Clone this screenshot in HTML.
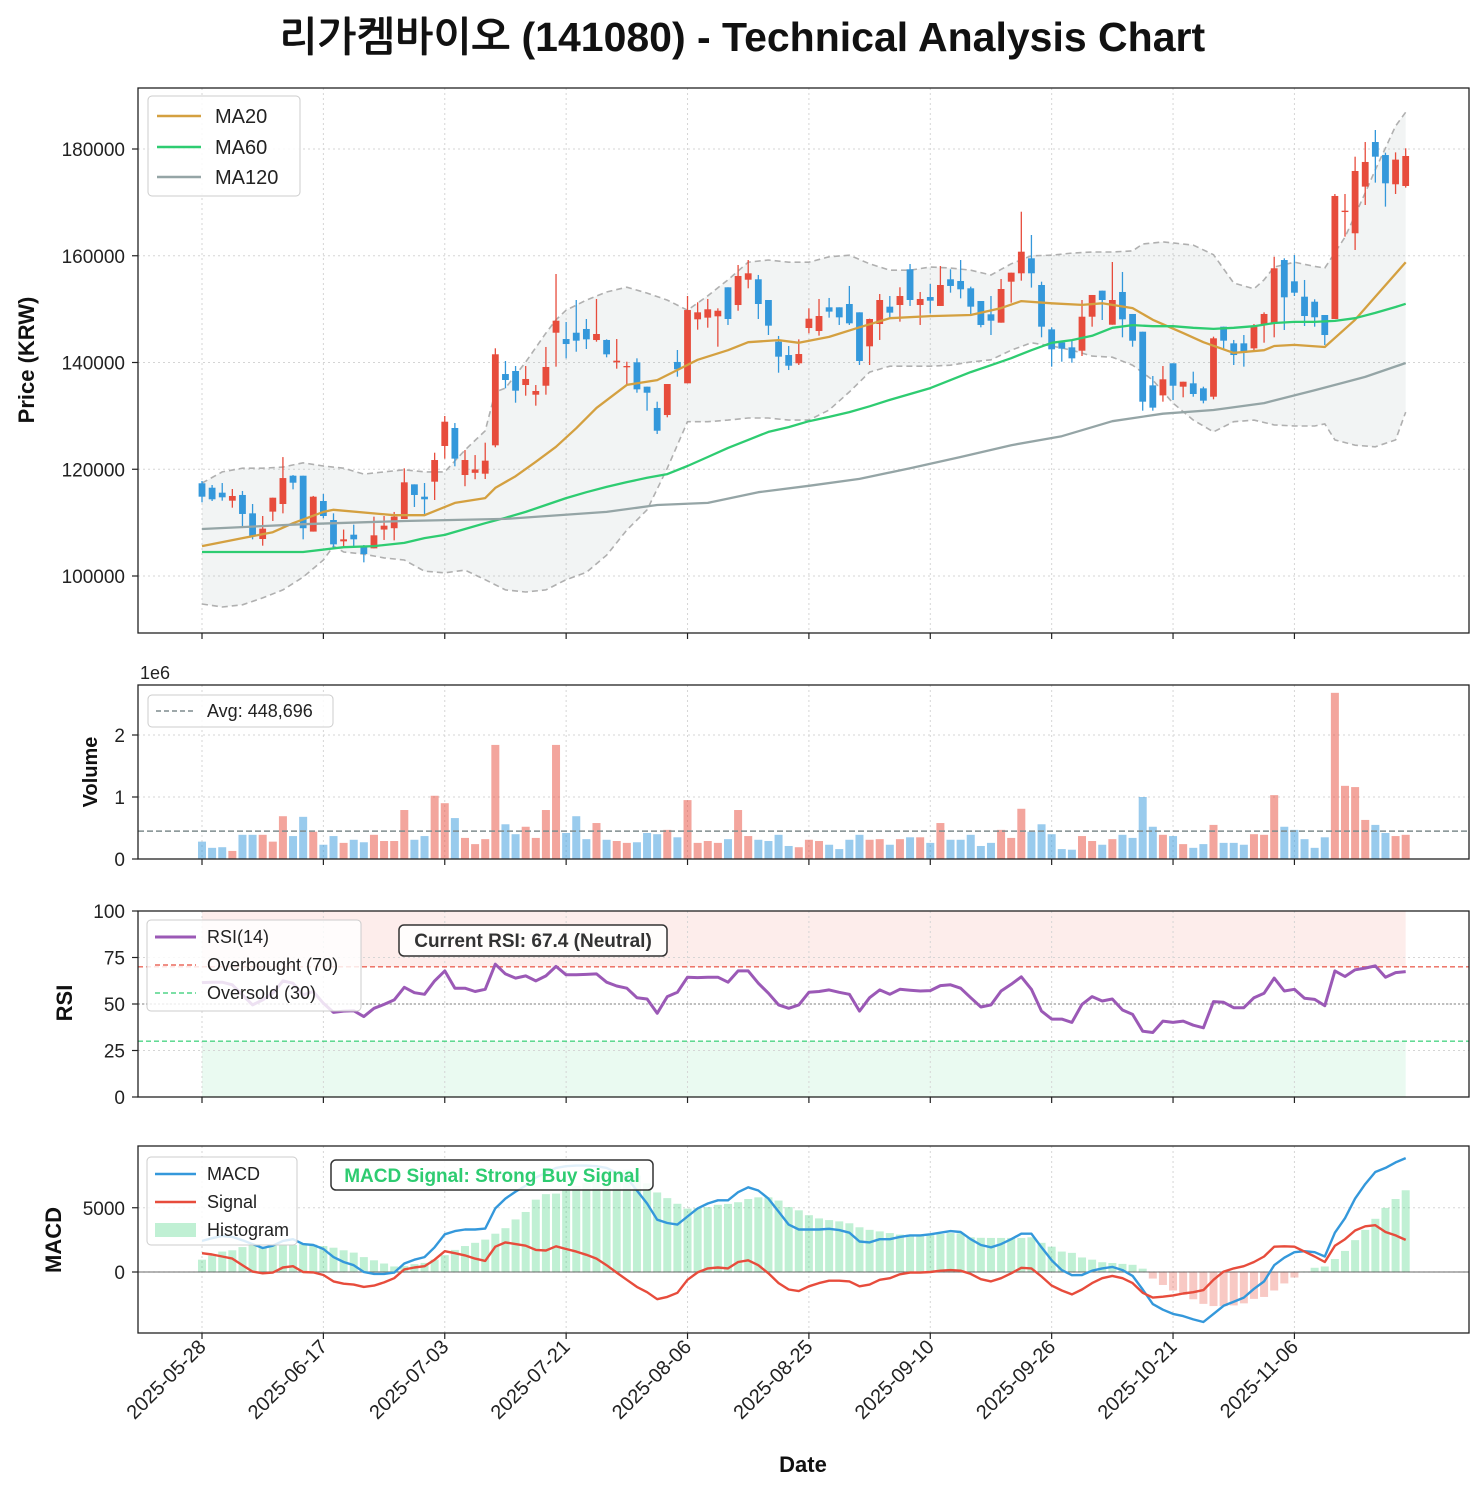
<!DOCTYPE html>
<html><head><meta charset="utf-8"><title>리가켐바이오 Technical Analysis</title>
<style>
html,body{margin:0;padding:0;background:#fff;}
svg{display:block;font-family:"Liberation Sans","NanumGothic","Noto Sans CJK KR",sans-serif;}
</style></head>
<body>
<svg id="chart" xmlns="http://www.w3.org/2000/svg" width="1483" height="1491" viewBox="0 0 1483 1491">
<rect x="0" y="0" width="1483" height="1491" fill="#fff"/>
<text x="742" y="51" text-anchor="middle" font-size="41" font-weight="bold" fill="#111" font-family="'Liberation Sans','NanumGothic','Noto Sans CJK KR',sans-serif">리가켐바이오 (141080) - Technical Analysis Chart</text>
<g id="gPrice"></g>
<g id="gVol"></g>
<g id="gRsi"></g>
<g id="gMacd"></g>
<text transform="translate(34,360) rotate(-90)" text-anchor="middle" font-size="22" font-weight="bold" fill="#111">Price (KRW)</text>
<text transform="translate(97,772) rotate(-90)" text-anchor="middle" font-size="20" font-weight="bold" fill="#111">Volume</text>
<text transform="translate(72,1003) rotate(-90)" text-anchor="middle" font-size="22" font-weight="bold" fill="#111">RSI</text>
<text transform="translate(61,1240) rotate(-90)" text-anchor="middle" font-size="22" font-weight="bold" fill="#111">MACD</text>
<text x="140" y="679" font-size="18" fill="#222">1e6</text>
<text x="803" y="1472" text-anchor="middle" font-size="22" font-weight="bold" fill="#111">Date</text>
</svg>
<script>
const tickIdx = [0,12,24,36,48,60,72,84,96,108];
const tickLabels = ['2025-05-28','2025-06-17','2025-07-03','2025-07-21','2025-08-06','2025-08-25','2025-09-10','2025-09-26','2025-10-21','2025-11-06'];
const openP = [117370,116540,115610,114110,115180,111740,106930,112060,113490,118790,118790,108320,114050,110490,106490,107740,105490,105180,108700,108950,110680,117170,114860,117670,124360,127730,118920,119330,119170,124480,
137840,138410,135780,133970,135650,145580,144400,145580,146280,144210,144220,140030,139100,140030,135470,131480,130160,140100,136100,148090,148400,148650,154090,150770,155510,155590,151710,143900,141400,139850,
146460,145900,150340,150340,150960,149400,143030,147210,150460,150770,157460,150770,152270,150590,155590,155270,153900,151520,149030,147460,155140,156710,159520,154520,146210,143780,142840,142210,148580,153460,
147080,153210,149090,145770,135720,133840,139850,135470,136100,135160,133590,146710,143590,143590,142650,147080,147340,159200,155210,152330,151390,148900,148150,168190,164210,172950,181310,178870,173390,173070];
const closeP = [114860,114370,114740,114990,111620,107490,108880,114670,118350,117480,108950,114860,111240,105930,106870,106870,104120,107620,109430,111120,117550,115180,114370,121730,128910,121990,121730,119960,121610,141540,
136720,134720,136910,134660,139160,147830,143460,144090,144340,145340,141530,140340,139340,134970,134340,127220,135970,138720,149830,149400,149970,149700,148150,156210,156710,150960,146900,141090,139400,141590,
148210,148710,149530,148460,147340,140280,148150,151710,149340,152460,151710,151900,151580,154520,154340,153710,150460,147030,147830,153770,156830,160760,156710,146710,142470,142590,140780,148580,152650,151710,
151710,148090,144080,132660,131540,136850,135650,136400,134100,132850,144530,144090,141400,141840,146710,149090,157650,152210,153080,148710,148470,145150,171200,168440,175880,177570,178560,173570,178010,178690];
const highP = [117800,117050,117420,116300,115930,113490,111240,114670,122280,118910,118790,115000,115370,111740,108700,109620,105810,111120,111240,112000,120170,117170,117420,123100,129980,128660,123600,122660,124980,142660,
140280,139340,139340,135780,142910,156580,147590,151710,148150,151900,144340,144400,140150,140780,135470,132660,135970,142340,152460,151280,151900,150150,154090,158270,159200,156400,151710,144970,143090,144340,
150150,151900,152090,150340,154340,149400,148210,152830,152460,154090,158450,153210,154710,158080,157460,159200,154210,151520,152460,155640,156830,168250,163890,155140,146590,144090,144090,151710,152650,153460,
158830,156960,149090,145770,137470,139340,139850,136400,138280,135470,144840,146710,144220,145150,147210,149400,159820,159520,160140,155460,151840,148900,171570,171570,178560,181310,183560,179310,179370,180130];
const lowP = [113800,114050,114110,112800,109370,106870,105680,110310,111740,116240,106870,108320,110810,105310,105430,105490,102560,105180,106750,106680,110680,112930,111620,114240,121990,120550,116820,118130,118170,124110,
135160,132470,133780,131910,133970,139220,140780,142020,142530,143900,140970,138840,135780,134340,130970,126600,129730,137340,136100,146150,146520,142960,147030,149700,153900,148150,145150,138090,138590,139530,
145470,145030,148400,147030,147030,139530,139530,144220,148280,147650,150590,147030,149210,150590,153080,152020,149090,146590,145150,147460,151210,155330,154030,144720,139220,140150,139970,141220,146710,147960,
147080,144720,142960,130970,130970,132660,132970,133480,133590,132350,133100,142340,139530,139220,142340,143710,144720,146090,152460,146840,146710,143280,148150,163580,161080,169510,173700,169200,171570,172760];
const ma20Idx = [0,4,7,9,12,13,19,22,25,28,29,31,33,35,37,39,42,45,47,49,52,54,57,59,62,65,68,72,76,79,81,84,87,89,92,94,97,99,102,105,106,108,111,114,116,119];
const ma20Val = [105600,107100,108200,109900,112000,112400,111400,111400,113700,114600,116500,118700,121400,124200,127700,131500,135800,136700,138600,140500,142300,143800,144200,143700,144800,146600,148300,148700,148900,150200,151500,151100,150800,151100,150200,148000,145500,143800,141800,142300,143100,143300,142900,148000,152300,158800];
const ma60Idx = [0,10,14,17,20,22,24,26,28,30,32,34,36,38,40,42,44,46,48,50,52,54,56,58,60,62,64,66,68,70,72,74,76,78,80,82,84,86,88,90,92,94,96,98,100,102,104,106,108,110,112,114,116,118,119];
const ma60Val = [104500,104500,105400,105600,106200,107100,107700,108800,109900,110900,112000,113300,114600,115700,116700,117600,118400,119100,120600,122300,124000,125500,127000,127900,129000,129800,130700,131800,133000,134100,135200,136700,138200,139500,140800,142300,143700,144200,145000,146500,147000,146800,146800,146500,146300,146500,146800,147400,147600,147600,147800,148300,149300,150400,151000];
const ma120Idx = [0,10,20,30,40,45,50,55,60,65,70,75,80,85,90,95,100,105,110,115,119];
const ma120Val = [108800,109700,110300,110700,112000,113300,113700,115700,116900,118200,120200,122300,124500,126200,129000,130400,131100,132400,134800,137300,139900];
const bbUpIdx = [0,2,4,6,8,10,12,14,16,18,20,22,24,26,28,29,30,32,34,35,36,38,40,42,44,46,48,50,52,54,56,58,60,62,64,66,68,70,72,74,76,78,80,82,84,86,88,90,92,93,95,98,100,102,104,105,106,108,110,111,113,114,115,116,117,118,119];
const bbUpVal = [117400,119500,120200,120200,120400,121200,120600,120200,119100,119500,119900,119500,119500,123600,127200,134500,135200,140100,145500,148000,149800,151700,153200,154100,153000,151700,149800,152500,155500,158800,159200,158800,158800,159800,160100,158500,157300,157300,157900,157700,157300,156400,158500,160000,160100,160500,160700,160700,160900,162200,162600,162000,160200,154900,153800,155500,157900,158800,158000,157700,163500,167600,171800,176100,180200,184300,186900];
const bbLoIdx = [0,2,4,6,8,10,12,13,14,16,18,20,22,24,26,28,30,32,34,36,38,40,42,44,46,48,50,52,54,56,58,60,62,64,66,68,70,72,74,76,78,80,82,84,86,88,90,92,94,96,98,100,102,104,106,108,110,111,112,114,116,118,119];
const bbLoVal = [94750,94200,94600,95900,97400,99800,103000,105600,104500,104100,103400,103000,100900,100600,101100,99300,97400,97000,97400,99300,100700,103900,108600,112400,120200,128900,128900,129200,129600,129600,129200,129200,131100,134500,138200,139300,139300,139300,139500,140100,140500,142300,143700,143100,142300,141200,141000,139500,136700,132400,129200,127000,128900,129200,128300,128100,128100,128500,125500,124500,124200,125500,130700];
const volumeM = [.28,.18,.19,.13,.39,.39,.39,.28,.69,.37,.68,.44,.23,.37,.26,.31,.27,.39,.29,.29,.79,.31,.37,1.02,.90,.66,.34,.24,.32,1.84,
.56,.40,.52,.34,.79,1.84,.42,.69,.32,.58,.31,.29,.26,.27,.42,.40,.47,.35,.95,.26,.29,.26,.32,.79,.37,.31,.29,.39,.21,.19,
.31,.29,.23,.16,.31,.39,.31,.32,.23,.32,.35,.35,.26,.58,.31,.31,.39,.21,.26,.47,.34,.81,.44,.56,.40,.16,.15,.37,.29,.23,
.32,.39,.34,1.00,.52,.39,.37,.24,.18,.24,.55,.26,.26,.23,.40,.39,1.03,.52,.47,.32,.18,.35,2.68,1.18,1.16,.63,.55,.42,.37,.39];
const avgVolume = 448696;
const rsiVals = [61.5,61.7,61.7,60.3,54.9,49.5,52.2,55.8,62.4,61.2,54.9,56.7,50.4,45.5,46.2,46.4,43.2,47.7,49.8,52.2,59.0,56.1,55.2,62.4,67.8,58.5,58.5,56.7,57.9,71.4,
66.2,63.9,65.1,62.4,65.1,70.2,65.7,65.7,65.9,66.2,61.7,59.7,58.5,53.4,52.7,45.0,54.0,56.3,64.4,64.2,64.4,64.4,61.7,67.8,67.8,61.2,55.8,49.5,47.7,49.5,
56.3,56.7,57.6,56.3,55.2,46.2,53.4,57.6,55.2,57.9,57.4,57.0,57.2,59.9,60.3,58.5,53.4,48.4,49.5,57.0,60.6,64.6,57.9,46.2,41.9,41.9,40.1,49.8,54.0,51.6,
52.7,46.8,44.4,35.4,34.7,40.8,40.1,40.8,38.6,37.2,51.3,50.9,48.0,48.0,53.4,55.8,63.9,57.0,57.9,53.1,52.5,49.1,67.8,64.8,68.4,69.3,70.5,64.4,66.9,67.4];
const rsiTicks = [0,25,50,75,100];
const macdVals = [2420,2630,2800,2730,2470,2170,1870,2050,2420,2550,2170,2100,1790,1160,780,530,0,-150,-150,-50,660,960,1160,1920,2930,3180,3310,3310,3380,4950,
5710,6260,6720,7350,7730,8100,8230,8280,8280,8230,8100,7730,7350,6340,5330,4070,3810,3690,4320,4950,5330,5580,5580,6210,6590,6340,5710,4700,3690,3310,
3310,3310,3360,3260,3060,2370,2300,2550,2550,2730,2850,2850,2930,3060,3180,3110,2550,2100,1920,2170,2550,2980,2980,1920,910,150,-250,-230,100,280,
400,150,-300,-1360,-2500,-2930,-3260,-3430,-3690,-3890,-3260,-2630,-2320,-1990,-1310,-730,530,1110,1540,1620,1540,1210,3060,4190,5710,6840,7780,8100,8530,8860];
const signalVals = [1460,1360,1210,1040,530,30,-100,-50,350,450,0,-30,-230,-730,-910,-980,-1160,-1060,-810,-480,200,350,450,960,1620,1460,1290,1040,860,1970,
2300,2170,2050,1720,1670,2000,1790,1590,1340,1040,530,-50,-610,-1160,-1570,-2120,-1940,-1620,-610,-30,280,350,280,780,910,530,-100,-860,-1360,-1490,
-1110,-860,-680,-680,-730,-1110,-980,-610,-480,-180,-50,-50,0,100,150,100,-150,-560,-730,-480,-100,330,280,-350,-1060,-1440,-1740,-1360,-860,-480,
-300,-480,-860,-1620,-1990,-1920,-1820,-1670,-1570,-1410,-610,30,280,450,780,1210,1970,2000,1970,1590,1210,780,2050,2550,3230,3560,3640,3110,2850,2500];
const macdTicks = [0,5000];
const priceTicks = [100000,120000,140000,160000,180000];
const volTicks = [0,1,2];
</script>
<script>
const NS='http://www.w3.org/2000/svg';
function mk(parent,tag,attrs){const e=document.createElementNS(NS,tag);for(const k in attrs)e.setAttribute(k,attrs[k]);parent.appendChild(e);return e;}
const L=138,R=1469;
const X0=202,STEP=10.115;
function xI(i){return X0+i*STEP;}
const P={top:88,bot:633}; function yP(v){return 576-(v-100000)*427/80000;}
const V={top:685,bot:859}; function yV(m){return 859-m*62;}
const Rr={top:911,bot:1097}; function yR(v){return 1097-v*1.86;}
const M={top:1146,bot:1333}; function yM(v){return 1272-v*0.01285;}
const UP='#e74c3c',DN='#3498db';

function gridAndFrame(g,top,bot,yTicks,yFn,fmt,name){
  for(const t of tickIdx){
    const l=mk(g,'line',{x1:xI(t),x2:xI(t),y1:top,y2:bot,stroke:'#d5d5d5','stroke-width':1,'stroke-dasharray':'2,3'});
    
    
    const tk=mk(g,'line',{x1:xI(t),x2:xI(t),y1:bot,y2:bot+6,stroke:'#222','stroke-width':1.2});
    
    
  }
  for(const v of yTicks){
    const y=yFn(v);
    const l=mk(g,'line',{x1:L,x2:R,y1:y,y2:y,stroke:'#d5d5d5','stroke-width':1,'stroke-dasharray':'2,3'});
    
    
    const tk=mk(g,'line',{x1:L-6,x2:L,y1:y,y2:y,stroke:'#222','stroke-width':1.2});
    
    
    const tx=mk(g,'text',{x:L-13,y:y+7,'text-anchor':'end','font-size':19,fill:'#222'});
    tx.textContent=fmt(v);
    
    
  }
}
function frame(g,top,bot,name){
  const f=mk(g,'rect',{x:L,y:top,width:R-L,height:bot-top,fill:'none',stroke:'#222','stroke-width':1.3});
  
  
}
function pathFrom(idx,vals,yFn){return idx.map((i,k)=>(k?'L':'M')+xI(i).toFixed(1)+','+yFn(vals[k]).toFixed(1)).join(' ');}
function seqIdx(n){return Array.from({length:n},(_,i)=>i);}

// ===== PRICE =====
const gP=document.getElementById('gPrice');
gridAndFrame(gP,P.top,P.bot,priceTicks,yP,v=>String(v),'price');
{
  const up=bbUpIdx.map((i,k)=>xI(i).toFixed(1)+','+yP(bbUpVal[k]).toFixed(1));
  const lo=bbLoIdx.map((i,k)=>xI(i).toFixed(1)+','+yP(bbLoVal[k]).toFixed(1)).reverse();
  const f=mk(gP,'polygon',{points:up.concat(lo).join(' '),fill:'#95a5a6','fill-opacity':0.12});
  
  
  const u=mk(gP,'path',{d:pathFrom(bbUpIdx,bbUpVal,yP),fill:'none',stroke:'#b0b0b0','stroke-width':1.6,'stroke-dasharray':'6,4'});
  
  
  const d=mk(gP,'path',{d:pathFrom(bbLoIdx,bbLoVal,yP),fill:'none',stroke:'#b0b0b0','stroke-width':1.6,'stroke-dasharray':'6,4'});
  
  
}
for(let i=0;i<closeP.length;i++){
  const up=closeP[i]>=openP[i]; const c=up?UP:DN; const x=xI(i);
  const w=mk(gP,'line',{x1:x,x2:x,y1:yP(highP[i]),y2:yP(lowP[i]),stroke:c,'stroke-width':1.3});
  
  
  const t=yP(Math.max(openP[i],closeP[i])), b=yP(Math.min(openP[i],closeP[i]));
  const r=mk(gP,'rect',{x:x-3.4,y:t,width:6.8,height:Math.max(1.2,b-t),fill:c});
  
  
}
{
  const a=mk(gP,'path',{d:pathFrom(ma20Idx,ma20Val,yP),fill:'none',stroke:'#d4a040','stroke-width':2.3,'stroke-linejoin':'round'});
  
  
  const b=mk(gP,'path',{d:pathFrom(ma60Idx,ma60Val,yP),fill:'none',stroke:'#2ecc71','stroke-width':2.3,'stroke-linejoin':'round'});
  
  
  const c=mk(gP,'path',{d:pathFrom(ma120Idx,ma120Val,yP),fill:'none',stroke:'#95a5a6','stroke-width':2.3,'stroke-linejoin':'round'});
  
  
}
frame(gP,P.top,P.bot,'price');
{
  const box=mk(gP,'rect',{x:148,y:96,width:152,height:100,rx:4,fill:'#fff','fill-opacity':0.85,stroke:'#ccc'});
  
  
  const items=[['MA20','#d4a040',116],['MA60','#2ecc71',147],['MA120','#95a5a6',177]];
  for(const [lab,col,y] of items){
    const l=mk(gP,'line',{x1:157,x2:201,y1:y,y2:y,stroke:col,'stroke-width':2.5});
    
    
    const t=mk(gP,'text',{x:215,y:y+7,'font-size':20,fill:'#222'});
    t.textContent=lab;
    
    
  }
}

// ===== VOLUME =====
const gV=document.getElementById('gVol');
gridAndFrame(gV,V.top,V.bot,volTicks,yV,v=>String(v),'volume');
for(let i=0;i<volumeM.length;i++){
  const up=closeP[i]>=openP[i];
  const r=mk(gV,'rect',{x:xI(i)-4,y:yV(volumeM[i]),width:8,height:V.bot-yV(volumeM[i]),fill:up?UP:DN,'fill-opacity':0.5});
  
  
}
{
  const y=yV(avgVolume/1e6);
  const l=mk(gV,'line',{x1:L,x2:R,y1:y,y2:y,stroke:'#7f8c8d','stroke-width':1.5,'stroke-dasharray':'6,3'});
  
  
  const box=mk(gV,'rect',{x:148,y:695,width:185,height:32,rx:4,fill:'#fff','fill-opacity':0.85,stroke:'#ccc'});
  
  
  const s=mk(gV,'line',{x1:156,x2:196,y1:711,y2:711,stroke:'#7f8c8d','stroke-width':1.5,'stroke-dasharray':'5,3'});
  
  
  const t=mk(gV,'text',{x:207,y:717,'font-size':18,fill:'#222'});
  t.textContent='Avg: '+avgVolume.toLocaleString('en-US');
  
  
}
frame(gV,V.top,V.bot,'volume');

// ===== RSI =====
const gR=document.getElementById('gRsi');
{
  const ob=mk(gR,'rect',{x:xI(0),y:yR(100),width:xI(rsiVals.length-1)-xI(0),height:yR(70)-yR(100),fill:'#e74c3c','fill-opacity':0.1});
  
  
  const os=mk(gR,'rect',{x:xI(0),y:yR(30),width:xI(rsiVals.length-1)-xI(0),height:yR(0)-yR(30),fill:'#2ecc71','fill-opacity':0.1});
  
  
}
gridAndFrame(gR,Rr.top,Rr.bot,rsiTicks,yR,v=>String(v),'rsi');
{
  const a=mk(gR,'line',{x1:L,x2:R,y1:yR(70),y2:yR(70),stroke:'#e74c3c','stroke-width':1.3,'stroke-dasharray':'5,3','stroke-opacity':0.85});
  
  
  const b=mk(gR,'line',{x1:L,x2:R,y1:yR(30),y2:yR(30),stroke:'#2ecc71','stroke-width':1.3,'stroke-dasharray':'5,3','stroke-opacity':0.85});
  
  
  const c=mk(gR,'line',{x1:L,x2:R,y1:yR(50),y2:yR(50),stroke:'#999','stroke-width':1.2,'stroke-dasharray':'2,2'});
  
  
  const p=mk(gR,'path',{d:pathFrom(seqIdx(rsiVals.length),rsiVals,yR),fill:'none',stroke:'#9b59b6','stroke-width':3,'stroke-linejoin':'round'});
  
  
}
frame(gR,Rr.top,Rr.bot,'rsi');
{
  const box=mk(gR,'rect',{x:147,y:920,width:214,height:91,rx:4,fill:'#fff','fill-opacity':0.82,stroke:'#ccc'});
  
  
  const items=[['RSI(14)','#9b59b6',937,null,3],['Overbought (70)','#e74c3c',965,'5,3',1.3],['Oversold (30)','#2ecc71',993,'5,3',1.3]];
  for(const [lab,col,y,da,sw] of items){
    const at={x1:155,x2:196,y1:y,y2:y,stroke:col,'stroke-width':sw};
    if(da)at['stroke-dasharray']=da;
    const l=mk(gR,'line',at);
    
    
    const t=mk(gR,'text',{x:207,y:y+6,'font-size':18,fill:'#222'});
    t.textContent=lab;
    
    
  }
  const ab=mk(gR,'rect',{x:399,y:925,width:268,height:31,rx:5,fill:'#fff','fill-opacity':0.85,stroke:'#333','stroke-width':1.5});
  
  
  const at=mk(gR,'text',{x:533,y:947,'text-anchor':'middle','font-size':19,'font-weight':'bold',fill:'#333'});
  at.textContent='Current RSI: '+rsiVals[rsiVals.length-1].toFixed(1)+' (Neutral)';
  
  
}

// ===== MACD =====
const gM=document.getElementById('gMacd');
gridAndFrame(gM,M.top,M.bot,macdTicks,yM,v=>String(v),'macd');
for(let i=0;i<macdVals.length;i++){
  const h=macdVals[i]-signalVals[i];
  const y0=yM(0), y1=yM(h);
  const r=mk(gM,'rect',{x:xI(i)-4,y:Math.min(y0,y1),width:8,height:Math.abs(y1-y0),fill:h>=0?'#2ecc71':'#e74c3c','fill-opacity':0.3});
  
  
}
{
  const z=mk(gM,'line',{x1:L,x2:R,y1:yM(0),y2:yM(0),stroke:'#555','stroke-width':1.2,'stroke-opacity':0.7});
  
  
  const a=mk(gM,'path',{d:pathFrom(seqIdx(macdVals.length),macdVals,yM),fill:'none',stroke:'#3498db','stroke-width':2.4,'stroke-linejoin':'round'});
  
  
  const b=mk(gM,'path',{d:pathFrom(seqIdx(signalVals.length),signalVals,yM),fill:'none',stroke:'#e74c3c','stroke-width':2.4,'stroke-linejoin':'round'});
  
  
}
frame(gM,M.top,M.bot,'macd');
{
  const box=mk(gM,'rect',{x:147,y:1157,width:150,height:88,rx:4,fill:'#fff','fill-opacity':0.82,stroke:'#ccc'});
  
  
  const l1=mk(gM,'line',{x1:155,x2:196,y1:1174,y2:1174,stroke:'#3498db','stroke-width':2.4});
  
  
  const l2=mk(gM,'line',{x1:155,x2:196,y1:1202,y2:1202,stroke:'#e74c3c','stroke-width':2.4});
  
  
  const l3=mk(gM,'rect',{x:155,y:1223,width:41,height:14,fill:'#2ecc71','fill-opacity':0.3});
  
  
  const labs=[['MACD',1174],['Signal',1202],['Histogram',1230]];
  for(const [lab,y] of labs){
    const t=mk(gM,'text',{x:207,y:y+6,'font-size':18,fill:'#222'});
    t.textContent=lab;
    
    
  }
  const ab=mk(gM,'rect',{x:331,y:1160,width:322,height:30,rx:5,fill:'#fff','fill-opacity':0.85,stroke:'#333','stroke-width':1.5});
  
  
  const at=mk(gM,'text',{x:492,y:1182,'text-anchor':'middle','font-size':19,'font-weight':'bold',fill:'#2ecc71'});
  at.textContent='MACD Signal: Strong Buy Signal';
  
  
}
tickIdx.forEach((t,k)=>{
  const x=xI(t)+5,y=1348;
  const tx=mk(gM,'text',{x:x,y:y,'text-anchor':'end','font-size':20,fill:'#222',transform:'rotate(-45 '+x+' '+y+')'});
  tx.textContent=tickLabels[k];
  
  
});
</script>
</body></html>
